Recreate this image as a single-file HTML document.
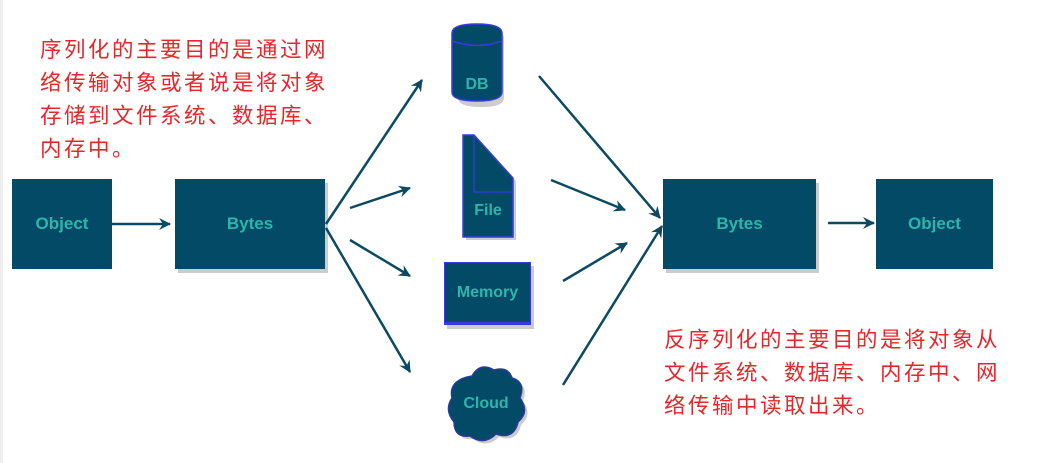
<!DOCTYPE html>
<html><head><meta charset="utf-8"><style>
body{margin:0;width:1061px;height:463px;background:#fff;overflow:hidden;position:relative;font-family:"Liberation Sans",sans-serif}
.t{position:absolute;color:#e8262a;font-family:"Liberation Sans","Noto Sans CJK SC",sans-serif;font-size:21.5px;line-height:33px;letter-spacing:2.5px}
.b{position:absolute;background:#034a66;box-shadow:3px 4px 0 #ccc;color:#2db5ac;font-weight:bold;font-size:17px;display:flex;align-items:center;justify-content:center}
</style></head><body>
<div style="position:absolute;left:0;top:0;width:3px;height:463px;background:#eee"></div>
<div class="t" style="left:40px;top:34px">序列化的主要目的是通过网<br>络传输对象或者说是将对象<br>存储到文件系统、数据库、<br>内存中。</div>
<div class="t" style="left:664px;top:324px">反序列化的主要目的是将对象从<br>文件系统、数据库、内存中、网<br>络传输中读取出来。</div>
<div class="b" style="left:12px;top:179px;width:100px;height:90px;box-shadow:none">Object</div>
<div class="b" style="left:175px;top:179px;width:150px;height:90px">Bytes</div>
<div class="b" style="left:663px;top:179px;width:153px;height:90px">Bytes</div>
<div class="b" style="left:876px;top:179px;width:117px;height:90px;box-shadow:none">Object</div>
<div class="b" style="left:444px;top:262px;width:85px;height:59px;border:1px solid #3a3ae0;border-bottom-width:3px;font-size:16px">Memory</div>
<svg width="1061" height="463" style="position:absolute;left:0;top:0">
<defs><marker id="a" markerWidth="14" markerHeight="14" refX="11" refY="6" orient="auto" markerUnits="userSpaceOnUse"><path d="M0,0 L12,6 L0,12 L4,6z" fill="#0d4a62"/></marker></defs>
<g stroke="#0d4a62" stroke-width="2.5" fill="none" marker-end="url(#a)">
<line x1="112" y1="224" x2="170" y2="224"/>
<line x1="326" y1="224" x2="422" y2="80"/>
<line x1="350" y1="208" x2="410" y2="188"/>
<line x1="350" y1="240" x2="410" y2="276"/>
<line x1="326" y1="228" x2="410" y2="372"/>
<line x1="539" y1="76" x2="660" y2="218"/>
<line x1="551" y1="180" x2="625" y2="210"/>
<line x1="563" y1="281" x2="627" y2="243"/>
<line x1="563" y1="385" x2="662" y2="226"/>
<line x1="828" y1="223" x2="874" y2="223"/>
</g>
<g>
<path d="M455,35 Q455,26 478,26 Q501,26 501,35 L501,95 Q501,104 478,104 Q455,104 455,95Z" fill="#ccc" transform="translate(3,3)"/>
<path d="M452,33 Q452,24 477,24 Q502,24 502,33 L502,92 Q502,101 477,101 Q452,101 452,92Z" fill="#034a66" stroke="#3a3ae0" stroke-width="1.5"/>
<path d="M452,41 Q477,50 502,41" stroke="#3a3ae0" stroke-width="1.5" fill="none"/>
<text x="477" y="89" fill="#2db5ac" font-weight="bold" font-size="16" text-anchor="middle" font-family="Liberation Sans">DB</text>
</g>
<path d="M466,138 L476,138 L516,181 L516,240 L466,240Z" fill="#ccc"/>
<path d="M463,135 L474,135 L513,178 L513,237 L463,237Z" fill="#034a66" stroke="#3a3ae0" stroke-width="1.5"/>
<path d="M474,135 L474,192 L513,192" stroke="#3a3ae0" stroke-width="1.2" fill="none"/>
<text x="488" y="215" fill="#2db5ac" font-weight="bold" font-size="16" text-anchor="middle" font-family="Liberation Sans">File</text>
<path d="M472,376 Q480,362 494,370 Q508,366 512,378 Q526,382 520,398 Q530,412 518,422 Q514,440 496,434 Q484,446 470,436 Q454,438 454,422 Q444,410 452,398 Q448,380 472,376Z" fill="#ccc" transform="translate(3,3)"/>
<path d="M472,376 Q480,362 494,370 Q508,366 512,378 Q526,382 520,398 Q530,412 518,422 Q514,440 496,434 Q484,446 470,436 Q454,438 454,422 Q444,410 452,398 Q448,380 472,376Z" fill="#034a66" stroke="#2a3a9a" stroke-width="1.5"/>
<text x="486" y="408" fill="#2db5ac" font-weight="bold" font-size="16" text-anchor="middle" font-family="Liberation Sans">Cloud</text>
</svg>
</body></html>
